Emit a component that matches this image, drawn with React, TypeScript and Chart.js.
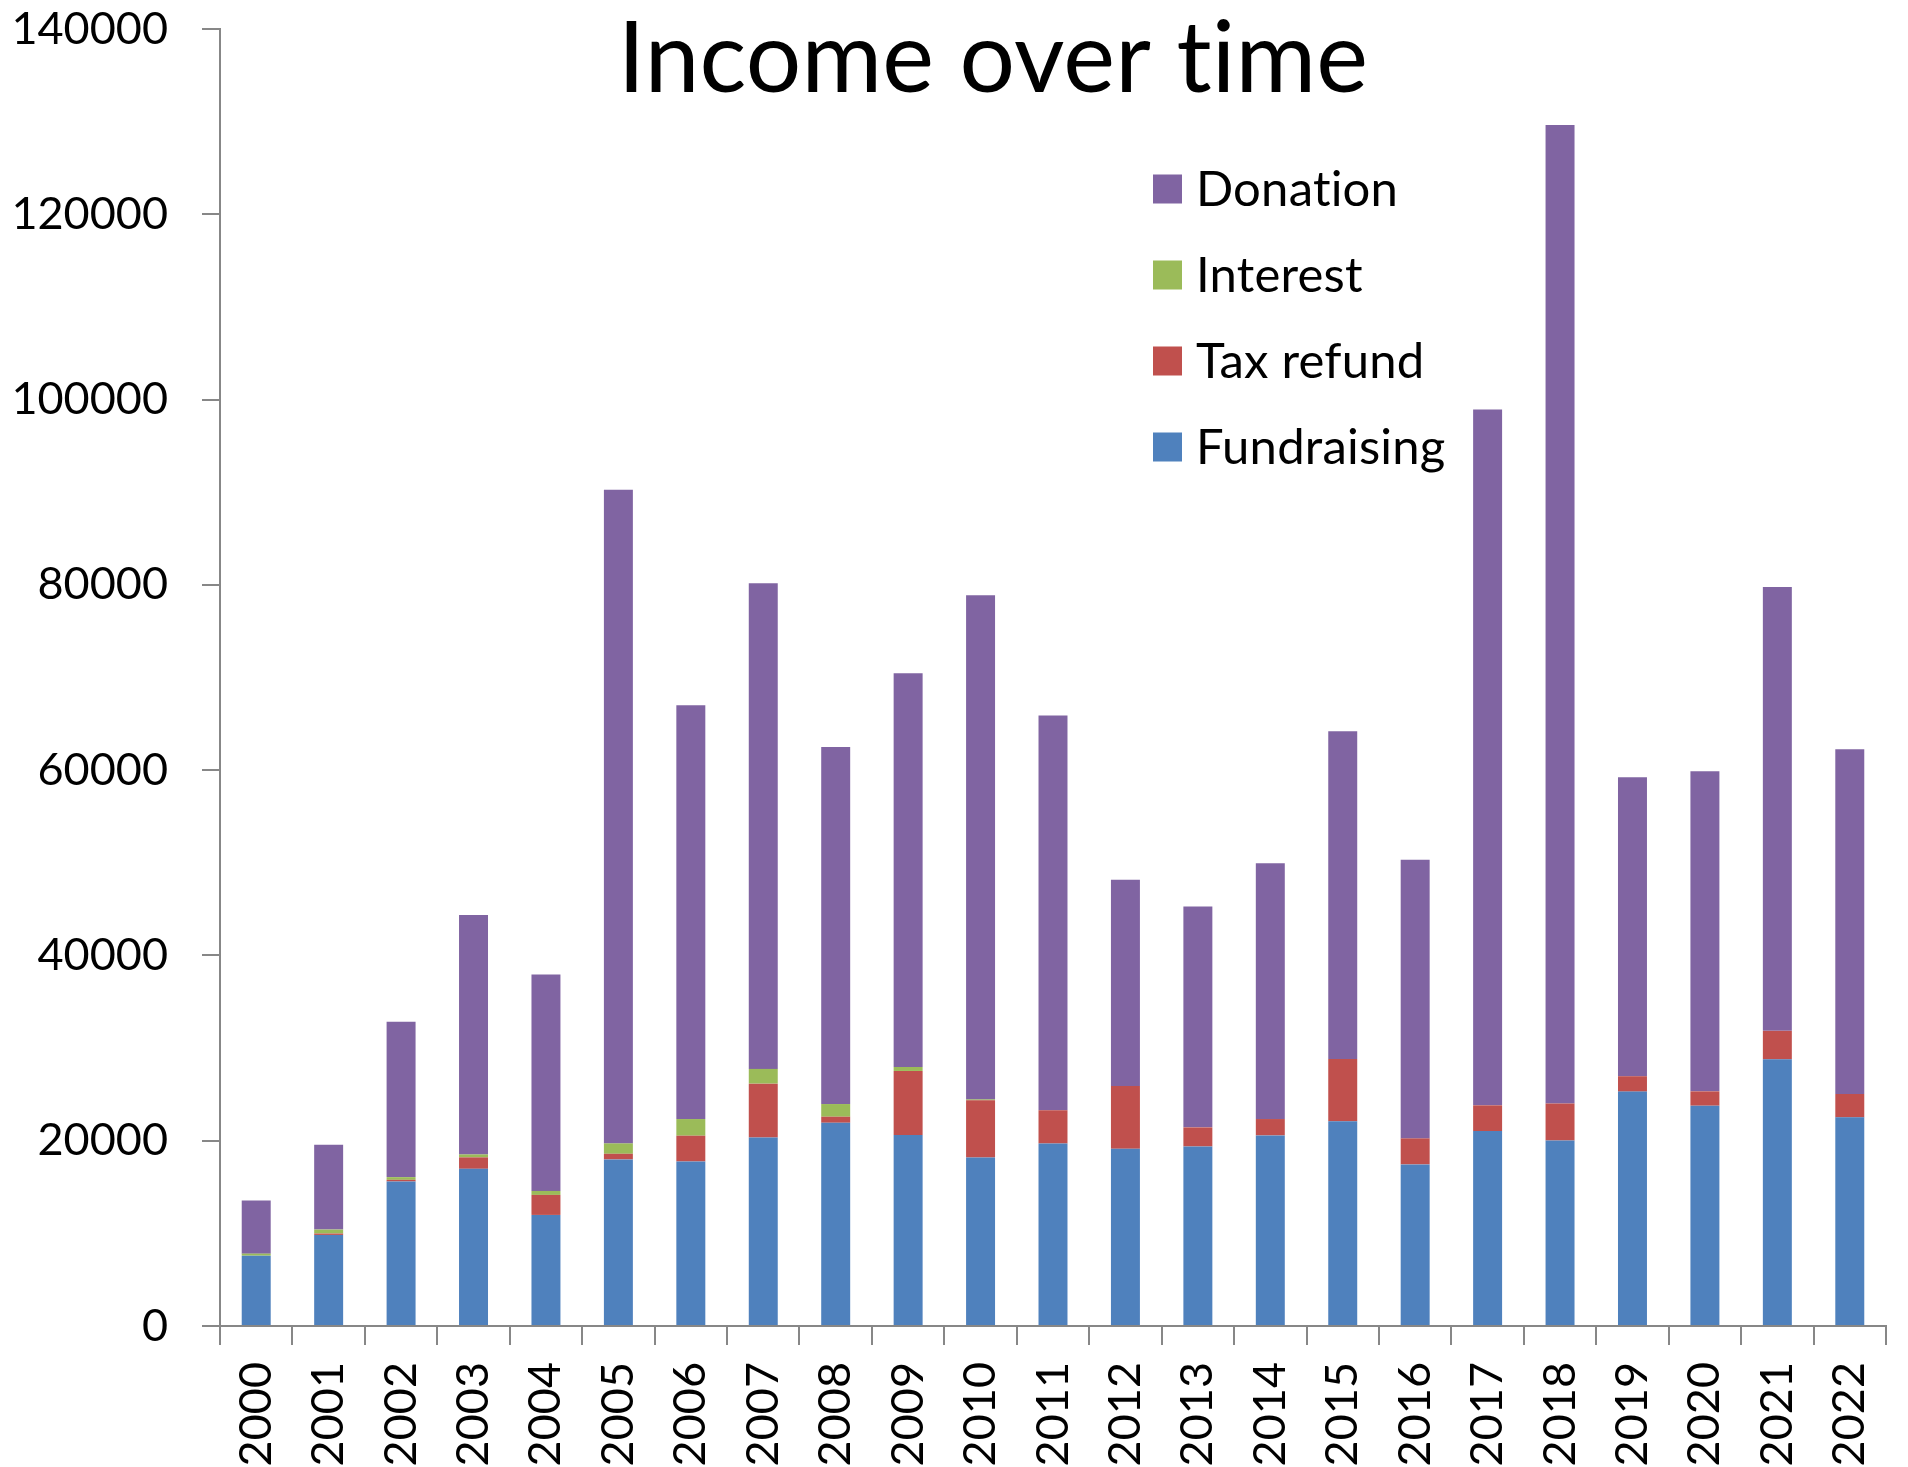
import { useEffect, useRef } from 'react'
import { Chart, ChartConfiguration, Plugin } from 'chart.js/auto'

// values
const years = [
  '2000', '2001', '2002', '2003', '2004', '2005', '2006', '2007', '2008', '2009', '2010', '2011',
  '2012', '2013', '2014', '2015', '2016', '2017', '2018', '2019', '2020', '2021', '2022'
]
const fundraising = [
  7590, 9830, 15600, 16970, 11990, 17980, 17760, 20360, 21940, 20610, 18190, 19710,
  19130, 19380, 20570, 22090, 17440, 21040, 20030, 25300, 23780, 28790, 22520
]
const taxRefund = [
  0, 150, 180, 1230, 2160, 610, 2780, 5800, 650, 6920, 6170, 3570,
  6780, 2060, 1770, 6740, 2810, 2780, 4000, 1660, 1550, 3070, 2520
]
const interest = [
  220, 430, 290, 320, 430, 1120, 1800, 1590, 1370, 430, 100, 0,
  0, 0, 0, 0, 0, 0, 0, 0, 0, 0, 0
]
const donation = [
  5730, 9150, 16760, 25850, 23370, 70560, 44670, 52430, 38540, 42510, 54420, 42620,
  22250, 23830, 27610, 35370, 30070, 75100, 105610, 32260, 34540, 47920, 37210
]
const yMax = 140000
const yStep = 20000

const FONT = 'Lato'
const AXIS_GREY = '#878787'

// title sits inside the plot area, so it is drawn by hand
const titlePlugin: Plugin = {
  id: 'insideTitle',
  afterDraw(chart) {
    const ctx = chart.ctx
    ctx.save()
    ctx.font = `98px ${FONT}`
    // a tiny letter spacing keeps Lato from using its "ti" ligature
    ;(ctx as any).letterSpacing = '0.2px'
    ctx.fillStyle = '#000'
    ctx.textAlign = 'center'
    ctx.textBaseline = 'alphabetic'
    ctx.fillText('Income over time', 993, 92)
    ctx.restore()
  }
}

// legend drawn in the upper right of the plot, reversed order like the original
const legendPlugin: Plugin = {
  id: 'insideLegend',
  afterDraw(chart) {
    const ctx = chart.ctx
    const items = chart.data.datasets.map((ds) => ({
      label: ds.label as string,
      color: ds.backgroundColor as string
    })).reverse()
    ctx.save()
    ctx.font = `49px ${FONT}`
    ;(ctx as any).letterSpacing = '0.2px'
    ctx.textBaseline = 'alphabetic'
    items.forEach((it, i) => {
      const cy = 189 + i * 86
      ctx.fillStyle = it.color
      ctx.fillRect(1153, cy - 14.5, 29, 29)
      ctx.fillStyle = '#000'
      ctx.fillText(it.label, 1196, cy + 17)
    })
    ctx.restore()
  }
}

export default function App() {
  const canvasRef = useRef<HTMLCanvasElement>(null)
  const chartRef = useRef<Chart | null>(null)

  useEffect(() => {
    document.body.style.margin = '0'
    document.body.style.overflow = 'hidden'
    if (!canvasRef.current) return
    if (chartRef.current) chartRef.current.destroy()

    const ctx = canvasRef.current.getContext('2d')
    if (!ctx) return

    Chart.defaults.font.family = FONT

    const bar = { categoryPercentage: 1, barPercentage: 0.4, borderWidth: 0 }

    const config: ChartConfiguration<'bar'> = {
      type: 'bar',
      data: {
        labels: years,
        datasets: [
          { label: 'Fundraising', data: fundraising, backgroundColor: '#4F81BD', ...bar },
          { label: 'Tax refund', data: taxRefund, backgroundColor: '#C0504D', ...bar },
          { label: 'Interest', data: interest, backgroundColor: '#9BBB59', ...bar },
          { label: 'Donation', data: donation, backgroundColor: '#8064A2', ...bar }
        ]
      },
      options: {
        responsive: true,
        maintainAspectRatio: false,
        animation: false,
        layout: { padding: { top: 29, right: 22, left: 0, bottom: 0 } },
        plugins: {
          legend: { display: false },
          title: { display: false },
          tooltip: { enabled: false }
        },
        scales: {
          x: {
            stacked: true,
            grid: {
              display: true,
              offset: true,
              drawOnChartArea: false,
              drawTicks: true,
              tickLength: 19,
              color: AXIS_GREY,
              lineWidth: 2
            },
            border: { display: true, color: AXIS_GREY, width: 2 },
            ticks: {
              autoSkip: false,
              minRotation: 90,
              maxRotation: 90,
              padding: 17,
              color: '#000',
              font: { size: 45, family: FONT }
            },
            afterFit: (scale) => {
              scale.height = 141
              scale.paddingLeft = 0
              scale.paddingRight = 0
            }
          },
          y: {
            stacked: true,
            min: 0,
            max: yMax,
            grid: {
              display: true,
              drawOnChartArea: false,
              drawTicks: true,
              tickLength: 18,
              color: AXIS_GREY,
              lineWidth: 2
            },
            border: { display: true, color: AXIS_GREY, width: 2 },
            ticks: {
              stepSize: yStep,
              padding: 34,
              color: '#000',
              font: { size: 45, family: FONT },
              callback: (v) => String(v)
            },
            afterFit: (scale) => {
              scale.width = 220
              scale.paddingTop = 0
              scale.paddingBottom = 0
            }
          }
        }
      },
      plugins: [titlePlugin, legendPlugin]
    }

    chartRef.current = new Chart(ctx, config)

    return () => {
      if (chartRef.current) {
        chartRef.current.destroy()
        chartRef.current = null
      }
    }
  }, [])

  return (
    <div style={{ width: '1908px', height: '1467px', position: 'relative' }}>
      <canvas ref={canvasRef} />
    </div>
  )
}
